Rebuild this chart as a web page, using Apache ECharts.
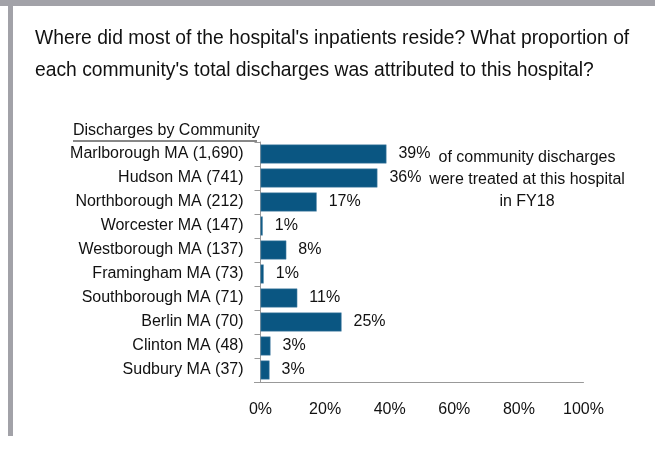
<!DOCTYPE html>
<html>
<head>
<meta charset="utf-8">
<script src="https://cdn.jsdelivr.net/npm/echarts@6/dist/echarts.min.js"></script>
<style>
  html, body { margin: 0; padding: 0; background: #fff; }
  #chart { width: 655px; height: 449px; }
</style>
</head>
<body>
<div id="chart"></div>
<script>
// communities, with discharge counts in brackets
const communities = [
  'Marlborough MA (1,690)', 'Hudson MA (741)', 'Northborough MA (212)',
  'Worcester MA (147)', 'Westborough MA (137)', 'Framingham MA (73)',
  'Southborough MA (71)', 'Berlin MA (70)', 'Clinton MA (48)', 'Sudbury MA (37)'
];
// share of each community's discharges treated here (%)
const shares = [39, 36.2, 17.4, 0.7, 8, 1, 11.4, 25.1, 3.1, 2.8];
const xTicks = [0, 20, 40, 60, 80, 100];

const font = '"Liberation Sans", Arial, sans-serif';
const chart = echarts.init(document.getElementById('chart'));

const option = {
  animation: false,
  textStyle: { fontFamily: font },
  title: {
    text: "Where did most of the hospital's inpatients reside? What proportion of\neach community's total discharges was attributed to this hospital?",
    left: 30,
    top: 18,
    textStyle: { fontFamily: font, fontSize: 19.3, fontWeight: 'normal', color: '#111', lineHeight: 32 }
  },
  grid: { left: 260.5, top: 142, width: 323, height: 240, containLabel: false },
  xAxis: {
    type: 'value',
    min: xTicks[0],
    max: xTicks[xTicks.length - 1],
    interval: 20,
    splitLine: { show: false },
    axisTick: { show: false },
    axisLine: { show: true, lineStyle: { color: '#999', width: 1 } },
    axisLabel: { margin: 20, fontSize: 16, color: '#111', formatter: v => v + '%' }
  },
  yAxis: {
    type: 'category',
    inverse: true,
    data: communities,
    axisLine: { show: true, lineStyle: { color: '#999', width: 1 } },
    axisTick: { show: true, length: 6, lineStyle: { color: '#999' } },
    axisLabel: { margin: 17, fontSize: 16, color: '#111' }
  },
  series: [{
    type: 'bar',
    data: shares,
    barWidth: 19,
    itemStyle: { color: '#0a5682', borderColor: '#5f8fae', borderWidth: 0.5 },
    label: {
      show: true,
      position: 'right',
      distance: 12,
      fontSize: 16,
      color: '#111',
      formatter: p => Math.round(p.value) + '%'
    }
  }],
  graphic: [
    { type: 'rect', shape: { x: 0, y: 0, width: 655, height: 6 }, style: { fill: '#a2a2a8' } },
    { type: 'rect', shape: { x: 8, y: 0, width: 5, height: 436 }, style: { fill: '#a2a2a8' } },
    {
      type: 'text', left: 73, top: 123,
      style: { text: 'Discharges by Community', font: '16px ' + font, fill: '#111' }
    },
    { type: 'line', shape: { x1: 73, y1: 141, x2: 257, y2: 141 }, style: { stroke: '#111', lineWidth: 1 } },
    { type: 'line', shape: { x1: 254, y1: 382.5, x2: 261, y2: 382.5 }, style: { stroke: '#999', lineWidth: 1 } },
    {
      type: 'text', x: 527, y: 147,
      style: {
        text: 'of community discharges\nwere treated at this hospital\nin FY18',
        font: '16px ' + font, fill: '#111', align: 'center', lineHeight: 22
      }
    }
  ]
};
chart.setOption(option);
</script>
</body>
</html>
